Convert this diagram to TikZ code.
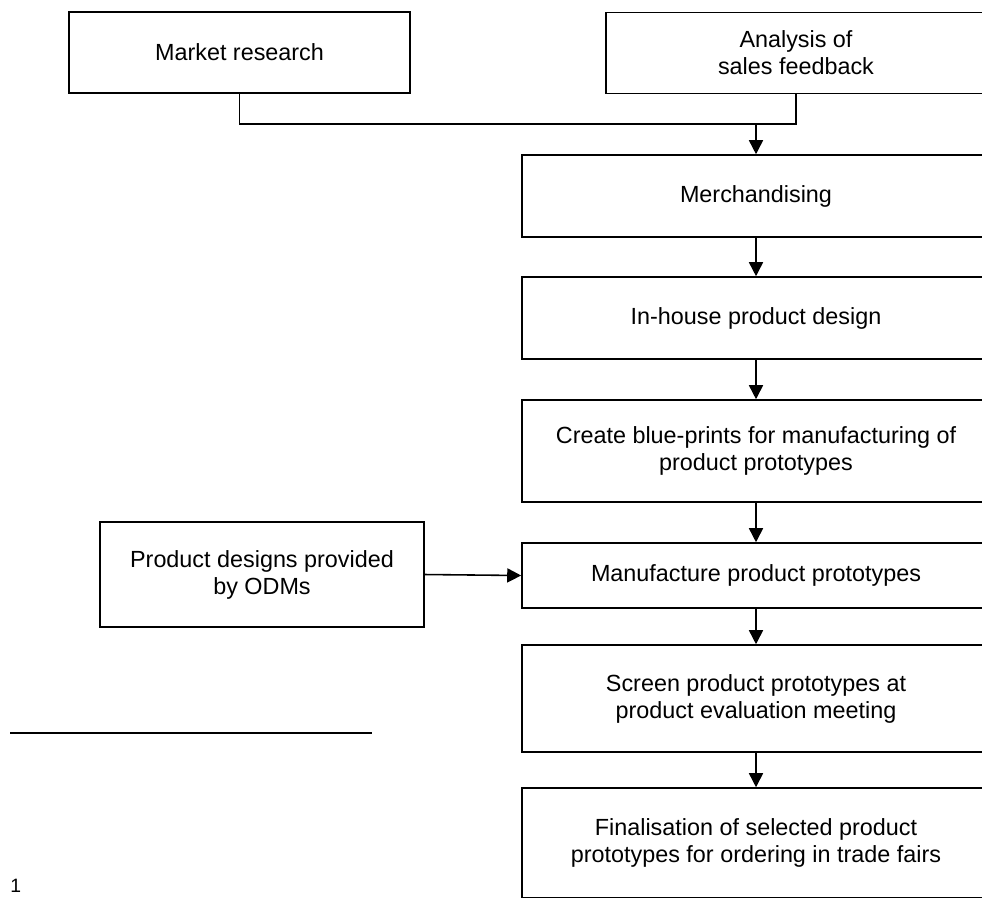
\documentclass[tikz,border=0pt]{standalone}
\usepackage{fontspec}
\setmainfont{Liberation Sans}
\usepackage{tikz}
\usetikzlibrary{positioning,calc,arrows.meta}

\begin{document}
\begin{tikzpicture}[
    stagebox/.style={draw, line width=0.9pt, align=center, inner sep=0pt,
        font=\fontsize{13.3}{15.4}\selectfont},
    flow/.style={line width=0.9pt, -{Triangle[length=0.28cm,width=0.28cm]}}
  ]
    \path[use as bounding box, clip] (0,0) rectangle (19.64,-17.94);

    % sources at the top
    \node[stagebox, minimum width=6.82cm, minimum height=1.62cm] (market) at (4.79,-1.05) {Market research};
    \node[stagebox, minimum width=7.6cm, minimum height=1.62cm] (feedback) at (15.92,-1.06) {Analysis of\\sales feedback};
    \coordinate (join) at (15.12,-2.48);

    % main column
    \node[stagebox, minimum width=9.36cm, minimum height=1.64cm] (merch) at (15.12,-3.92) {Merchandising};
    \node[stagebox, minimum width=9.36cm, minimum height=1.64cm] (design) at (15.12,-6.36) {In-house product design};
    \node[stagebox, minimum width=9.36cm, minimum height=2.04cm] (blueprint) at (15.12,-9.02) {Create blue-prints for manufacturing of\\product prototypes};
    \node[stagebox, minimum width=9.36cm, minimum height=1.30cm] (manufacture) at (15.12,-11.51) {Manufacture product prototypes};
    \node[stagebox, minimum width=9.36cm, minimum height=2.14cm] (screen) at (15.12,-13.97) {Screen product prototypes at\\product evaluation meeting};
    \node[stagebox, minimum width=9.36cm, minimum height=2.2cm] (final) at (15.12,-16.86) {Finalisation of selected product\\prototypes for ordering in trade fairs};

    % outside designs
    \node[stagebox, minimum width=6.48cm, minimum height=2.1cm] (odm) at (5.24,-11.49) {Product designs provided\\by ODMs};

    \draw[line width=0.9pt] (market.south) |- (join) -| (feedback.south);
    \draw[flow] (join) -- (merch.north);
    \draw[flow] (merch) -- (design);
    \draw[flow] (design) -- (blueprint);
    \draw[flow] (blueprint) -- (manufacture);
    \draw[flow] (manufacture) -- (screen);
    \draw[flow] (screen) -- (final);
    \draw[flow] (odm.east) -- (manufacture.west);

    % footnote rule
    \coordinate (rulestart) at (0.2,-14.66);
    \coordinate (ruleend) at (7.44,-14.66);
    \draw[line width=1.3pt] (rulestart) -- (ruleend);
    \node[anchor=north west, inner sep=0pt, font=\fontsize{11}{13}\selectfont] (fnmark) at (0.2,-17.58) {1};
\end{tikzpicture}
\end{document}
